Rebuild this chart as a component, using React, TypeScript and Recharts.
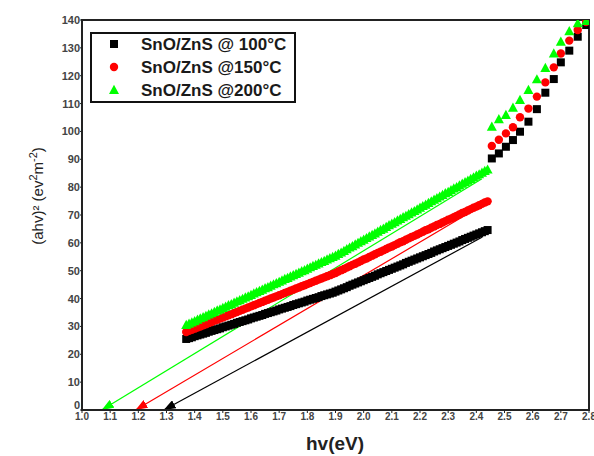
import { ComposedChart, Scatter, Line, XAxis, YAxis, ReferenceArea } from "recharts";

// low-energy (dense) part of the Tauc plot
const lowEnergy = [
  1.37, 1.38, 1.39, 1.4, 1.41, 1.42, 1.43, 1.44, 1.45, 1.46, 1.47, 1.48, 1.49, 1.5, 1.51, 1.52, 1.53, 1.54,
  1.55, 1.56, 1.57, 1.58, 1.59, 1.6, 1.61, 1.62, 1.63, 1.64, 1.65, 1.66, 1.67, 1.68, 1.69, 1.7, 1.71, 1.72,
  1.73, 1.74, 1.75, 1.76, 1.77, 1.78, 1.79, 1.8, 1.81, 1.82, 1.83, 1.84, 1.85, 1.86, 1.87, 1.88, 1.89, 1.9,
  1.91, 1.92, 1.93, 1.94, 1.95, 1.96, 1.97, 1.98, 1.99, 2.0, 2.01, 2.02, 2.03, 2.04, 2.05, 2.06, 2.07, 2.08,
  2.09, 2.1, 2.11, 2.12, 2.13, 2.14, 2.15, 2.16, 2.17, 2.18, 2.19, 2.2, 2.21, 2.22, 2.23, 2.24, 2.25, 2.26,
  2.27, 2.28, 2.29, 2.3, 2.31, 2.32, 2.33, 2.34, 2.35, 2.36, 2.37, 2.38, 2.39, 2.4, 2.41, 2.42, 2.43, 2.44,
];
const lowBlack = [
  25.5, 25.8, 26.1, 26.5, 26.8, 27.1, 27.4, 27.7, 28.1, 28.4, 28.7, 29.0, 29.3, 29.7, 30.0, 30.3, 30.6, 30.9,
  31.3, 31.6, 31.9, 32.2, 32.5, 32.9, 33.2, 33.5, 33.8, 34.1, 34.5, 34.8, 35.1, 35.4, 35.7, 36.1, 36.4, 36.7,
  37.0, 37.3, 37.7, 38.0, 38.3, 38.6, 38.9, 39.3, 39.6, 39.9, 40.2, 40.5, 40.9, 41.2, 41.5, 41.8, 42.1, 42.5,
  42.9, 43.3, 43.7, 44.1, 44.6, 45.0, 45.4, 45.8, 46.2, 46.6, 47.0, 47.4, 47.8, 48.2, 48.7, 49.1, 49.5, 49.9,
  50.3, 50.7, 51.1, 51.5, 51.9, 52.3, 52.8, 53.2, 53.6, 54.0, 54.4, 54.8, 55.2, 55.6, 56.0, 56.4, 56.9, 57.3,
  57.7, 58.1, 58.5, 58.9, 59.3, 59.7, 60.1, 60.5, 61.0, 61.4, 61.8, 62.2, 62.6, 63.0, 63.4, 63.8, 64.2, 64.6,
];
const lowRed = [
  28.0, 28.4, 28.8, 29.2, 29.6, 30.0, 30.4, 30.8, 31.2, 31.6, 32.0, 32.4, 32.8, 33.2, 33.6, 34.0, 34.4, 34.8,
  35.2, 35.6, 36.0, 36.4, 36.8, 37.2, 37.6, 38.0, 38.4, 38.8, 39.2, 39.6, 40.0, 40.4, 40.8, 41.2, 41.6, 42.0,
  42.4, 42.8, 43.2, 43.6, 44.0, 44.4, 44.8, 45.2, 45.6, 46.0, 46.4, 46.8, 47.2, 47.6, 48.0, 48.4, 48.8, 49.2,
  49.7, 50.2, 50.6, 51.1, 51.6, 52.1, 52.5, 53.0, 53.5, 54.0, 54.4, 54.9, 55.4, 55.9, 56.4, 56.8, 57.3, 57.8,
  58.3, 58.7, 59.2, 59.7, 60.2, 60.6, 61.1, 61.6, 62.1, 62.5, 63.0, 63.5, 64.0, 64.5, 64.9, 65.4, 65.9, 66.4,
  66.8, 67.3, 67.8, 68.3, 68.7, 69.2, 69.7, 70.2, 70.7, 71.1, 71.6, 72.1, 72.6, 73.0, 73.5, 74.0, 74.5, 74.9,
];
const lowGreen = [
  30.5, 31.0, 31.4, 31.9, 32.4, 32.9, 33.3, 33.8, 34.3, 34.7, 35.2, 35.7, 36.1, 36.6, 37.1, 37.6, 38.0, 38.5,
  39.0, 39.4, 39.9, 40.4, 40.8, 41.3, 41.8, 42.3, 42.7, 43.2, 43.7, 44.1, 44.6, 45.1, 45.5, 46.0, 46.5, 47.0,
  47.4, 47.9, 48.4, 48.8, 49.3, 49.8, 50.2, 50.7, 51.2, 51.7, 52.1, 52.6, 53.1, 53.5, 54.0, 54.5, 54.9, 55.4,
  56.0, 56.5, 57.1, 57.7, 58.3, 58.8, 59.4, 60.0, 60.6, 61.1, 61.7, 62.3, 62.8, 63.4, 64.0, 64.6, 65.1, 65.7,
  66.3, 66.9, 67.4, 68.0, 68.6, 69.2, 69.7, 70.3, 70.9, 71.4, 72.0, 72.6, 73.2, 73.7, 74.3, 74.9, 75.5, 76.0,
  76.6, 77.2, 77.8, 78.3, 78.9, 79.5, 80.0, 80.6, 81.2, 81.8, 82.3, 82.9, 83.5, 84.1, 84.6, 85.2, 85.8, 86.3,
];

// high-energy part above the step
const highEnergy = [2.455, 2.48, 2.505, 2.53, 2.555, 2.585, 2.615, 2.645, 2.675, 2.7, 2.73, 2.76, 2.79];
const highBlack = [90.3, 92.1, 94.5, 96.9, 99.9, 103.5, 108.0, 113.9, 118.8, 124.8, 129.0, 134.0, 138.2];
const highRed = [94.8, 97.0, 99.3, 101.5, 105.1, 108.2, 112.5, 117.6, 123.0, 128.0, 132.6, 136.4, 139.3];
const highGreen = [101.7, 104.4, 105.9, 108.5, 111.3, 114.9, 118.7, 122.8, 128.0, 132.2, 136.0, 138.8, 139.6];

// linear extrapolations down to the energy axis
const fitBlackX = [1.29, 2.42];
const fitBlackY = [0, 62];
const fitRedX = [1.19, 2.43];
const fitRedY = [0, 74];
const fitGreenX = [1.07, 2.42];
const fitGreenY = [0, 83];

const xTicks = [1.0, 1.1, 1.2, 1.3, 1.4, 1.5, 1.6, 1.7, 1.8, 1.9, 2.0, 2.1, 2.2, 2.3, 2.4, 2.5, 2.6, 2.7, 2.8];
const yTicks = [0, 10, 20, 30, 40, 50, 60, 70, 80, 90, 100, 110, 120, 130, 140];
const legendLabels = ["SnO/ZnS @ 100°C", "SnO/ZnS @150°C", "SnO/ZnS @200°C"];

const toPoints = (xs: number[], ys: number[]) => xs.map((x, i) => ({ x, y: ys[i] }));

const blackPts = [...toPoints(lowEnergy, lowBlack), ...toPoints(highEnergy, highBlack)];
const redPts = [...toPoints(lowEnergy, lowRed), ...toPoints(highEnergy, highRed)];
const greenPts = [...toPoints(lowEnergy, lowGreen), ...toPoints(highEnergy, highGreen)];

const FONT = "'Liberation Sans', Arial, sans-serif";

const Square = (p: any) => <rect x={p.cx - 4} y={p.cy - 4} width={8} height={8} fill="#000000" />;
const Dot = (p: any) => <circle cx={p.cx} cy={p.cy} r={4.2} fill="#ff0000" />;
const Tri = (p: any) => (
  <polygon
    points={`${p.cx},${p.cy - 5.2} ${p.cx - 5},${p.cy + 4} ${p.cx + 5},${p.cy + 4}`}
    fill="#00ff00"
  />
);

const arrowColors: [string, string][] = [
  ["arrowBlack", "#000000"],
  ["arrowRed", "#ff0000"],
  ["arrowGreen", "#00ff00"],
];

// y tick with the "0" nudged up a little, as in the original
const YTick = (p: any) => {
  const v = p.payload.value;
  return (
    <text
      x={p.x}
      y={p.y + (v === 0 ? -1 : 4)}
      textAnchor="end"
      fontSize={11}
      fontWeight={700}
      fill="#444"
      fontFamily={FONT}
    >
      {v}
    </text>
  );
};

export default function App() {
  const tickStyle = { fontSize: 10, fontWeight: 700, fill: "#444", fontFamily: FONT };
  return (
    <div style={{ position: "fixed", left: 0, top: 0, width: 594, height: 456, background: "#fff" }}>
      <svg width={0} height={0} style={{ position: "absolute" }}>
        <defs>
          {arrowColors.map(([id, c]) => (
            <marker
              key={id}
              id={id}
              viewBox="0 0 12 9"
              refX={12}
              refY={4.5}
              markerWidth={12}
              markerHeight={9}
              markerUnits="userSpaceOnUse"
              orient="auto-start-reverse"
            >
              <path d="M0,0 L12,4.5 L0,9 z" fill={c} />
            </marker>
          ))}
        </defs>
      </svg>

      <div style={{ position: "absolute", left: 0, top: 0 }}>
        <ComposedChart width={594} height={456} margin={{ top: 20, right: 5, bottom: 16, left: 0 }}>
          <XAxis
            type="number"
            dataKey="x"
            domain={[1.0, 2.8]}
            ticks={xTicks}
            interval={0}
            allowDataOverflow
            tickFormatter={(v: number) => v.toFixed(1)}
            height={30}
            axisLine={{ stroke: "#222", strokeWidth: 2 }}
            tickLine={{ stroke: "#222" }}
            tickSize={3}
            tickMargin={0}
            tick={tickStyle}
          />
          <YAxis
            type="number"
            domain={[0, 140]}
            ticks={yTicks}
            interval={0}
            allowDataOverflow
            width={82}
            axisLine={{ stroke: "#222", strokeWidth: 2 }}
            tickLine={{ stroke: "#222" }}
            tickSize={2}
            tickMargin={0}
            tick={<YTick />}
          />
          <ReferenceArea x1={1.0} x2={2.8} y1={0} y2={140} fill="none" stroke="#222" strokeWidth={2} ifOverflow="visible" />
          <Scatter data={blackPts} dataKey="y" shape={Square} isAnimationActive={false} />
          <Scatter data={redPts} dataKey="y" shape={Dot} isAnimationActive={false} />
          <Scatter data={greenPts} dataKey="y" shape={Tri} isAnimationActive={false} />
          <Line
            data={toPoints(fitBlackX, fitBlackY)}
            dataKey="y"
            type="linear"
            stroke="#000000"
            strokeWidth={1.2}
            dot={false}
            markerStart="url(#arrowBlack)"
            isAnimationActive={false}
          />
          <Line
            data={toPoints(fitRedX, fitRedY)}
            dataKey="y"
            type="linear"
            stroke="#ff0000"
            strokeWidth={1.2}
            dot={false}
            markerStart="url(#arrowRed)"
            isAnimationActive={false}
          />
          <Line
            data={toPoints(fitGreenX, fitGreenY)}
            dataKey="y"
            type="linear"
            stroke="#00ff00"
            strokeWidth={1.2}
            dot={false}
            markerStart="url(#arrowGreen)"
            isAnimationActive={false}
          />
        </ComposedChart>
      </div>

      <svg width={594} height={456} style={{ position: "absolute", left: 0, top: 0, pointerEvents: "none" }}>
        <text transform="translate(43,196) rotate(-90)" textAnchor="middle" fontSize={15} fontFamily={FONT} fill="#222">
          (ahv)² (ev
          <tspan dy={-6} fontSize={11}>2</tspan>
          <tspan dy={6}>m</tspan>
          <tspan dy={-6} fontSize={11}>-2</tspan>
          <tspan dy={6}>)</tspan>
        </text>
        <text x={335} y={450} textAnchor="middle" fontSize={19} fontWeight={700} fontFamily={FONT} fill="#222">
          hv(eV)
        </text>

        <rect x={91} y={33} width={204} height={69} fill="#fff" stroke="#111" strokeWidth={2} />
        <Square cx={114} cy={44} />
        <Dot cx={114} cy={67} />
        <Tri cx={114} cy={90} />
        {legendLabels.map((t, i) => (
          <text key={t} x={141} y={50 + i * 23} fontSize={17} fontWeight={700} fontFamily={FONT} fill="#1a1a1a">
            {t}
          </text>
        ))}
      </svg>
    </div>
  );
}
